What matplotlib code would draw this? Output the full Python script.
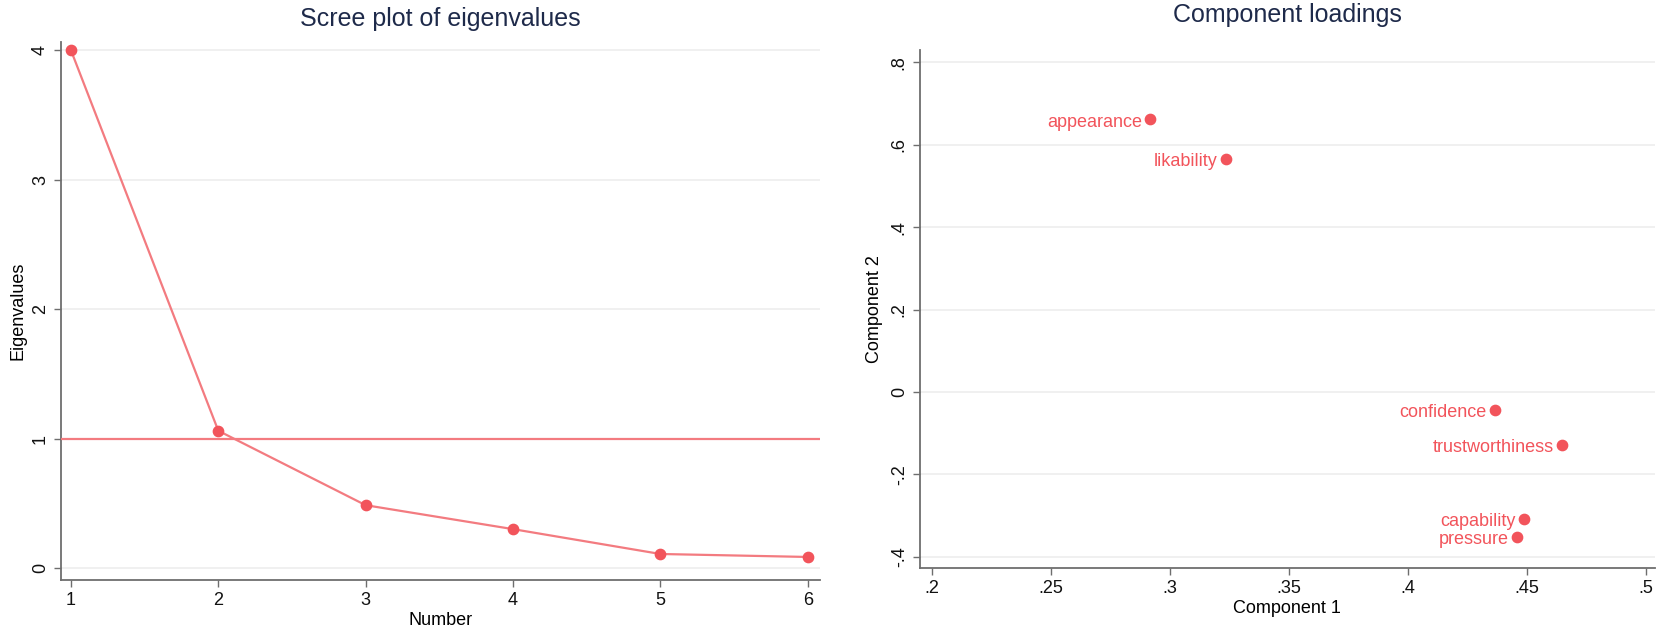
import matplotlib
matplotlib.use("Agg")
import matplotlib.pyplot as plt

# datos
numero = [1, 2, 3, 4, 5, 6]
autovalores = [4.0, 1.06, 0.485, 0.30, 0.108, 0.085]

variables = ["appearance", "likability", "confidence", "trustworthiness", "capability", "pressure"]
comp1 = [0.292, 0.3237, 0.4366, 0.4651, 0.449, 0.4461]
comp2 = [0.662, 0.565, -0.044, -0.128, -0.308, -0.352]

x_ticks_izq = [1, 2, 3, 4, 5, 6]
y_ticks_izq = [0, 1, 2, 3, 4]
x_ticks_der = [0.2, 0.25, 0.3, 0.35, 0.4, 0.45, 0.5]
x_etiq_der = [".2", ".25", ".3", ".35", ".4", ".45", ".5"]
y_ticks_der = [-0.4, -0.2, 0, 0.2, 0.4, 0.6, 0.8]
y_etiq_der = ["-.4", "-.2", "0", ".2", ".4", ".6", ".8"]

plt.rcParams["font.family"] = ["Liberation Sans Narrow", "Liberation Sans", "DejaVu Sans"]

ROJO = "#f2545b"
LINEA = "#f37b80"
TITULO = "#1e2a4a"
EJE = "#6e6e6e"

fig = plt.figure(figsize=(16.6, 6.29), dpi=100)
ax1 = fig.add_axes([0.0367, 0.0779, 0.457, 0.855])
ax2 = fig.add_axes([0.554, 0.097, 0.443, 0.8235])


def estilo(ax):
    for lado in ["top", "right"]:
        ax.spines[lado].set_visible(False)
    for lado in ["left", "bottom"]:
        ax.spines[lado].set_color(EJE)
        ax.spines[lado].set_linewidth(1.3)
    ax.tick_params(colors=EJE, labelcolor="#111111", labelsize=13, length=5, width=1)
    ax.yaxis.grid(True, color="#eeeeee", linewidth=1.2)
    ax.set_axisbelow(True)


# scree plot
estilo(ax1)
ax1.plot(numero, autovalores, color=LINEA, linewidth=1.6, zorder=3)
ax1.scatter(numero, autovalores, color=ROJO, s=55, zorder=4)
ax1.axhline(1, color=LINEA, linewidth=1.6, zorder=3)
ax1.set_xlim(0.932, 6.08)
ax1.set_ylim(-0.093, 4.062)
ax1.set_xticks(x_ticks_izq)
ax1.set_yticks(y_ticks_izq)
for t in ax1.get_yticklabels():
    t.set_rotation(90)
    t.set_va("center")
ax1.set_title("Scree plot of eigenvalues", fontsize=18, color=TITULO, pad=12)
ax1.set_xlabel("Number", fontsize=13, labelpad=2)
ax1.set_ylabel("Eigenvalues", fontsize=13, labelpad=4)

# cargas
estilo(ax2)
ax2.scatter(comp1, comp2, color=ROJO, s=55, zorder=4)
for nombre, x, y in zip(variables, comp1, comp2):
    ax2.annotate(nombre, (x, y), xytext=(-6, -2), textcoords="offset points",
                 ha="right", va="center", color=ROJO, fontsize=13)
ax2.set_xlim(0.195, 0.504)
ax2.set_ylim(-0.427, 0.83)
ax2.set_xticks(x_ticks_der)
ax2.set_xticklabels(x_etiq_der)
ax2.set_yticks(y_ticks_der)
ax2.set_yticklabels(y_etiq_der, rotation=90, va="center")
ax2.set_title("Component loadings", fontsize=18, color=TITULO, pad=20)
ax2.set_xlabel("Component 1", fontsize=13, labelpad=2)
ax2.set_ylabel("Component 2", fontsize=13, labelpad=6)

fig.savefig("out.png", dpi=100, facecolor="white")
